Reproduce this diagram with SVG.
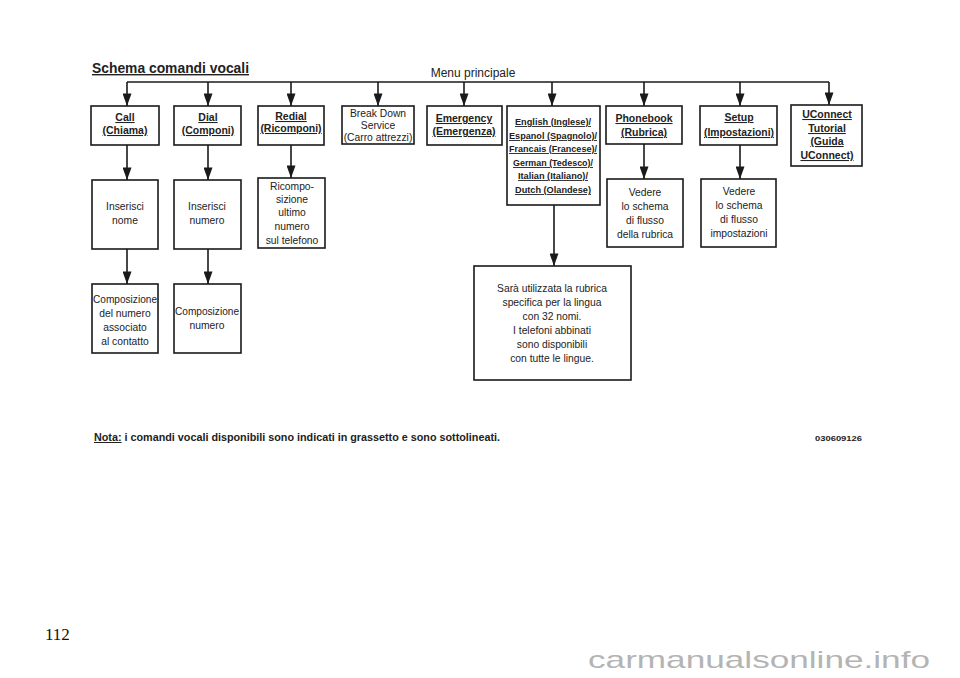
<svg xmlns="http://www.w3.org/2000/svg" width="960" height="678" viewBox="0 0 960 678">
<defs>
<marker id="ah" viewBox="0 0 14 10" refX="14" refY="5" markerWidth="13" markerHeight="9" markerUnits="userSpaceOnUse" orient="auto">
<path d="M0,0 L14,5 L0,10 Z" fill="#1a1a1a"/>
</marker>
<style>
.box{fill:#fff;stroke:#1a1a1a;stroke-width:1.6}
.t{font-family:"Liberation Sans",Arial,sans-serif;font-size:10.3px;fill:#222;text-anchor:middle}
.b{font-family:"Liberation Sans",Arial,sans-serif;font-size:10.5px;font-weight:bold;fill:#222;text-anchor:middle;text-decoration:underline}
.s{font-family:"Liberation Sans",Arial,sans-serif;font-size:9px;font-weight:bold;fill:#222;text-anchor:middle;text-decoration:underline}
.ln{stroke:#1a1a1a;stroke-width:1.6;fill:none}
</style>
</defs>
<rect width="960" height="678" fill="#fff"/>
<text x="92" y="73" font-family="Liberation Sans,Arial,sans-serif" font-size="14" font-weight="bold" fill="#222" text-decoration="underline" textLength="157" lengthAdjust="spacingAndGlyphs">Schema comandi vocali</text>
<text x="473" y="77" class="t" style="font-size:12px">Menu principale</text>
<g id="connectors">
<path class="ln" d="M127,82 H829"/>
<path class="ln" d="M127,82 V106" marker-end="url(#ah)"/>
<path class="ln" d="M208,82 V106" marker-end="url(#ah)"/>
<path class="ln" d="M291,82 V106" marker-end="url(#ah)"/>
<path class="ln" d="M378,82 V106" marker-end="url(#ah)"/>
<path class="ln" d="M464,82 V106" marker-end="url(#ah)"/>
<path class="ln" d="M552,82 V106" marker-end="url(#ah)"/>
<path class="ln" d="M644,82 V106" marker-end="url(#ah)"/>
<path class="ln" d="M740,82 V106" marker-end="url(#ah)"/>
<path class="ln" d="M829,82 V105" marker-end="url(#ah)"/>
<path class="ln" d="M127,145 V180" marker-end="url(#ah)"/>
<path class="ln" d="M127,249 V284" marker-end="url(#ah)"/>
<path class="ln" d="M208,145 V180" marker-end="url(#ah)"/>
<path class="ln" d="M208,249 V284" marker-end="url(#ah)"/>
<path class="ln" d="M291,145 V178" marker-end="url(#ah)"/>
<path class="ln" d="M644,144 V179" marker-end="url(#ah)"/>
<path class="ln" d="M740,145 V179" marker-end="url(#ah)"/>
<path class="ln" d="M554,205 V266" marker-end="url(#ah)"/>
</g>
<g id="call">
<rect class="box" x="91" y="106" width="68" height="39"/>
<text class="b" x="125" y="121">Call</text>
<text class="b" x="125" y="134">(Chiama)</text>
</g>
<g id="dial">
<rect class="box" x="174" y="106" width="67" height="39"/>
<text class="b" x="208" y="121">Dial</text>
<text class="b" x="208" y="134">(Componi)</text>
</g>
<g id="redial">
<rect class="box" x="258" y="106" width="66" height="39"/>
<text class="b" x="291" y="120">Redial</text>
<text class="b" x="291" y="132">(Ricomponi)</text>
</g>
<g id="breakdown">
<rect class="box" x="342" y="106" width="72" height="38"/>
<text class="t" x="378" y="117">Break Down</text>
<text class="t" x="378" y="129">Service</text>
<text class="t" x="378" y="141">(Carro attrezzi)</text>
</g>
<g id="emergency">
<rect class="box" x="427" y="106" width="75" height="39"/>
<text class="b" x="464" y="122">Emergency</text>
<text class="b" x="464" y="135">(Emergenza)</text>
</g>
<g id="languages">
<rect class="box" x="507" y="106" width="93" height="99"/>
<text class="s" x="553" y="125" textLength="76" lengthAdjust="spacingAndGlyphs">English (Inglese)/</text>
<text class="s" x="553" y="139" textLength="88" lengthAdjust="spacingAndGlyphs">Espanol (Spagnolo)/</text>
<text class="s" x="553" y="152" textLength="88" lengthAdjust="spacingAndGlyphs">Francais (Francese)/</text>
<text class="s" x="553" y="166" textLength="80" lengthAdjust="spacingAndGlyphs">German (Tedesco)/</text>
<text class="s" x="553" y="179" textLength="70" lengthAdjust="spacingAndGlyphs">Italian (Italiano)/</text>
<text class="s" x="553" y="193" textLength="76" lengthAdjust="spacingAndGlyphs">Dutch (Olandese)</text>
</g>
<g id="phonebook">
<rect class="box" x="606" y="106" width="76" height="38"/>
<text class="b" x="644" y="122">Phonebook</text>
<text class="b" x="644" y="136">(Rubrica)</text>
</g>
<g id="setup">
<rect class="box" x="700" y="106" width="77" height="39"/>
<text class="b" x="739" y="121">Setup</text>
<text class="b" x="739" y="136" textLength="70" lengthAdjust="spacingAndGlyphs">(Impostazioni)</text>
</g>
<g id="uconnect">
<rect class="box" x="791" y="105" width="71" height="61"/>
<text class="b" x="827" y="118">UConnect</text>
<text class="b" x="827" y="132">Tutorial</text>
<text class="b" x="827" y="145">(Guida</text>
<text class="b" x="827" y="159">UConnect)</text>
</g>
<g id="inserisci-nome">
<rect class="box" x="92" y="180" width="66" height="69"/>
<text class="t" x="125" y="210">Inserisci</text>
<text class="t" x="125" y="224">nome</text>
</g>
<g id="inserisci-numero">
<rect class="box" x="174" y="180" width="67" height="69"/>
<text class="t" x="207" y="210">Inserisci</text>
<text class="t" x="207" y="224">numero</text>
</g>
<g id="ricomposizione">
<rect class="box" x="258" y="178" width="67" height="70"/>
<text class="t" x="292" y="190">Ricompo-</text>
<text class="t" x="292" y="203">sizione</text>
<text class="t" x="292" y="216">ultimo</text>
<text class="t" x="292" y="230">numero</text>
<text class="t" x="292" y="244">sul telefono</text>
</g>
<g id="composizione-contatto">
<rect class="box" x="92" y="284" width="66" height="69"/>
<text class="t" x="125" y="303" textLength="64" lengthAdjust="spacingAndGlyphs">Composizione</text>
<text class="t" x="125" y="317">del numero</text>
<text class="t" x="125" y="331">associato</text>
<text class="t" x="125" y="345">al contatto</text>
</g>
<g id="composizione-numero">
<rect class="box" x="174" y="284" width="67" height="69"/>
<text class="t" x="207" y="315" textLength="64" lengthAdjust="spacingAndGlyphs">Composizione</text>
<text class="t" x="207" y="329">numero</text>
</g>
<g id="vedere-rubrica">
<rect class="box" x="607" y="179" width="76" height="68"/>
<text class="t" x="645" y="196">Vedere</text>
<text class="t" x="645" y="210">lo schema</text>
<text class="t" x="645" y="224">di flusso</text>
<text class="t" x="645" y="238">della rubrica</text>
</g>
<g id="vedere-impostazioni">
<rect class="box" x="701" y="179" width="75" height="68"/>
<text class="t" x="739" y="195">Vedere</text>
<text class="t" x="739" y="209">lo schema</text>
<text class="t" x="739" y="223">di flusso</text>
<text class="t" x="739" y="237">impostazioni</text>
</g>
<g id="rubrica-lingua">
<rect class="box" x="474" y="266" width="157" height="114"/>
<text class="t" x="552" y="292">Sarà utilizzata la rubrica</text>
<text class="t" x="552" y="306">specifica per la lingua</text>
<text class="t" x="552" y="320">con 32 nomi.</text>
<text class="t" x="552" y="334">I telefoni abbinati</text>
<text class="t" x="552" y="348">sono disponibili</text>
<text class="t" x="552" y="362">con tutte le lingue.</text>
</g>
<text x="94" y="441" font-family="Liberation Sans,Arial,sans-serif" font-size="10" font-weight="bold" fill="#222" textLength="406" lengthAdjust="spacingAndGlyphs"><tspan text-decoration="underline">Nota:</tspan> i comandi vocali disponibili sono indicati in grassetto e sono sottolineati.</text>
<text x="862" y="441" font-family="Liberation Sans,Arial,sans-serif" font-size="8" font-weight="bold" fill="#222" text-anchor="end" textLength="47" lengthAdjust="spacingAndGlyphs">030609126</text>
<text x="45" y="640" font-family="Liberation Serif,Times New Roman,serif" font-size="17" fill="#111">112</text>
<text x="588" y="668" font-family="Liberation Sans,Arial,sans-serif" font-size="24" fill="#b4b4b4" textLength="342" lengthAdjust="spacingAndGlyphs">carmanualsonline.info</text>
</svg>
